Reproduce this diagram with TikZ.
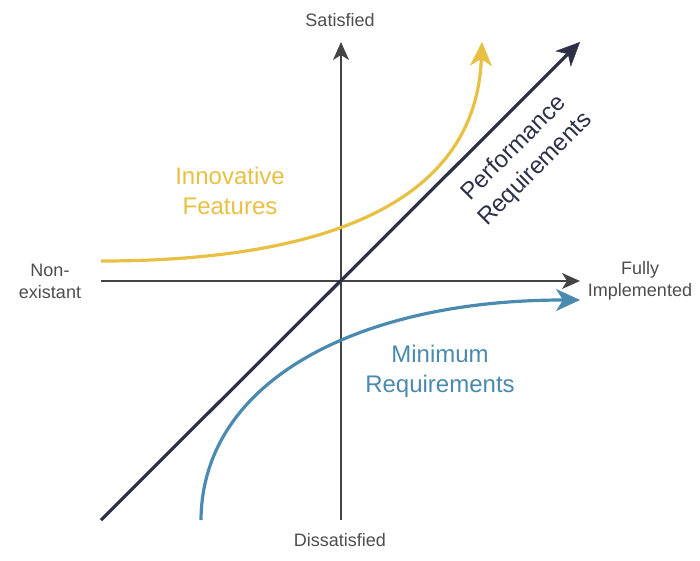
\documentclass[tikz,border=0pt]{standalone}
\usepackage{fontspec}
\setmainfont{Liberation Sans}
\usetikzlibrary{arrows.meta}
\definecolor{axisgray}{HTML}{444444}
\definecolor{labelgray}{HTML}{4D4D4D}
\definecolor{navy}{HTML}{2D3047}
\definecolor{gold}{HTML}{E8C043}
\definecolor{steel}{HTML}{4A8AAF}
\tikzset{
  axis/.style={-{Stealth[length=18pt,width=16pt,inset=5pt,fill=axisgray]}, draw=axisgray, line width=1.6pt},
  curve/.style={-{Stealth[length=24pt,width=22pt,inset=7pt,fill=#1,line width=0.5pt]}, draw=#1, line width=3.2pt},
  small/.style={font=\fontsize{18}{22}\selectfont, text=labelgray, align=center},
  big/.style={font=\fontsize{24}{30}\selectfont, align=center}
}
\begin{document}
\begin{tikzpicture}[x=1pt,y=-1pt]
\useasboundingbox (0,0) rectangle (700,560);
\coordinate (xl) at (101,281);
\coordinate (xr) at (580,281);
\coordinate (yb) at (341,520);
\coordinate (yt) at (341,42);
\coordinate (dl) at (101,520);
\coordinate (dr) at (580,42);
\coordinate (ys) at (101,261);
\coordinate (ye) at (482,42);
\coordinate (bs) at (201,520);
\coordinate (be) at (580,300);

\draw[axis] (xl) -- (xr);
\draw[axis] (yb) -- (yt);
\draw[curve=navy] (dl) -- (dr);
\draw[curve=gold] (ys) .. controls (300,261) and (475,215) .. (ye);
\draw[curve=steel] (bs) .. controls (202,380) and (360,300) .. (be);

\node[small] (sat) at (340,20) {Satisfied};
\node[small] (dis) at (340,540) {Dissatisfied};
\node[small] (non) at (50,281) {Non-\\existant};
\node[small] (ful) at (640,281) {Fully\\Implemented};
\node[big, text=gold] (inn) at (230,191) {Innovative\\Features};
\node[big, text=steel] (min) at (440,371) {Minimum\\Requirements};
\node[big, text=navy, rotate=45] (perf) at (525,159) {Performance\\Requirements};
\end{tikzpicture}
\end{document}
